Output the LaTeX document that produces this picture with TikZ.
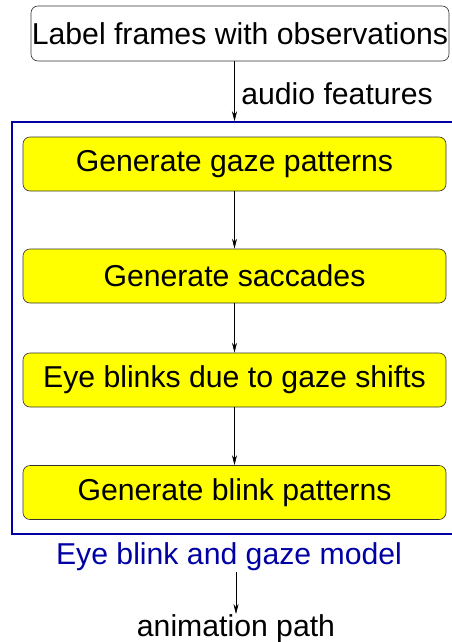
\documentclass[tikz,border=0pt]{standalone}
\usepackage{fontspec}
\setmainfont{Liberation Sans}
\usetikzlibrary{arrows.meta}
\definecolor{frameblue}{RGB}{0,0,165}
\definecolor{boxyellow}{RGB}{255,255,0}
\begin{document}
\begin{tikzpicture}[x=1pt,y=-1pt,
  txt/.style={font=\fontsize{30.2}{34}\selectfont, inner sep=0pt},
  stepbox/.style={draw=black!80, line width=0.6pt, fill=boxyellow, rounded corners=7pt,
    minimum width=423pt, minimum height=54pt, font=\fontsize{30.2}{34}\selectfont, inner sep=0pt},
  topbox/.style={draw=black!80, line width=0.6pt, rounded corners=7pt,
    minimum width=418pt, minimum height=55pt, font=\fontsize{30.2}{34}\selectfont, inner sep=0pt},
  conn/.style={draw=black, line width=0.6pt, -{Stealth[length=10pt,width=5pt]}}
]
\useasboundingbox (0,0) rectangle (451,642);
\node[topbox] (top) at (240,33.5) {Label frames with observations};
\node[draw=frameblue, line width=1.5pt, minimum width=441pt, minimum height=412pt, inner sep=0pt] (frame) at (232.5,328) {};
\node[stepbox] (g1) at (234.5,164) {Generate gaze patterns};
\node[stepbox] (g2) at (234.5,276) {Generate saccades};
\node[stepbox] (g3) at (234.5,380) {Eye blinks due to gaze shifts};
\node[stepbox] (g4) at (234.5,492.5) {Generate blink patterns};
\node[txt] (audio) at (337,94) {audio features};
\node[txt, text=frameblue] (model) at (229,557) {Eye blink and gaze model};
\coordinate (apstart) at (236,572);
\node[txt, anchor=north] (anim) at (236,614) {animation path};
\draw[conn] (g1.north |- top.south) -- (g1.north |- frame.north);
\draw[conn] (g1) -- (g2);
\draw[conn] (g2) -- (g3);
\draw[conn] (g3) -- (g4);
\draw[conn] (apstart) -- (anim.north);
\end{tikzpicture}
\end{document}
